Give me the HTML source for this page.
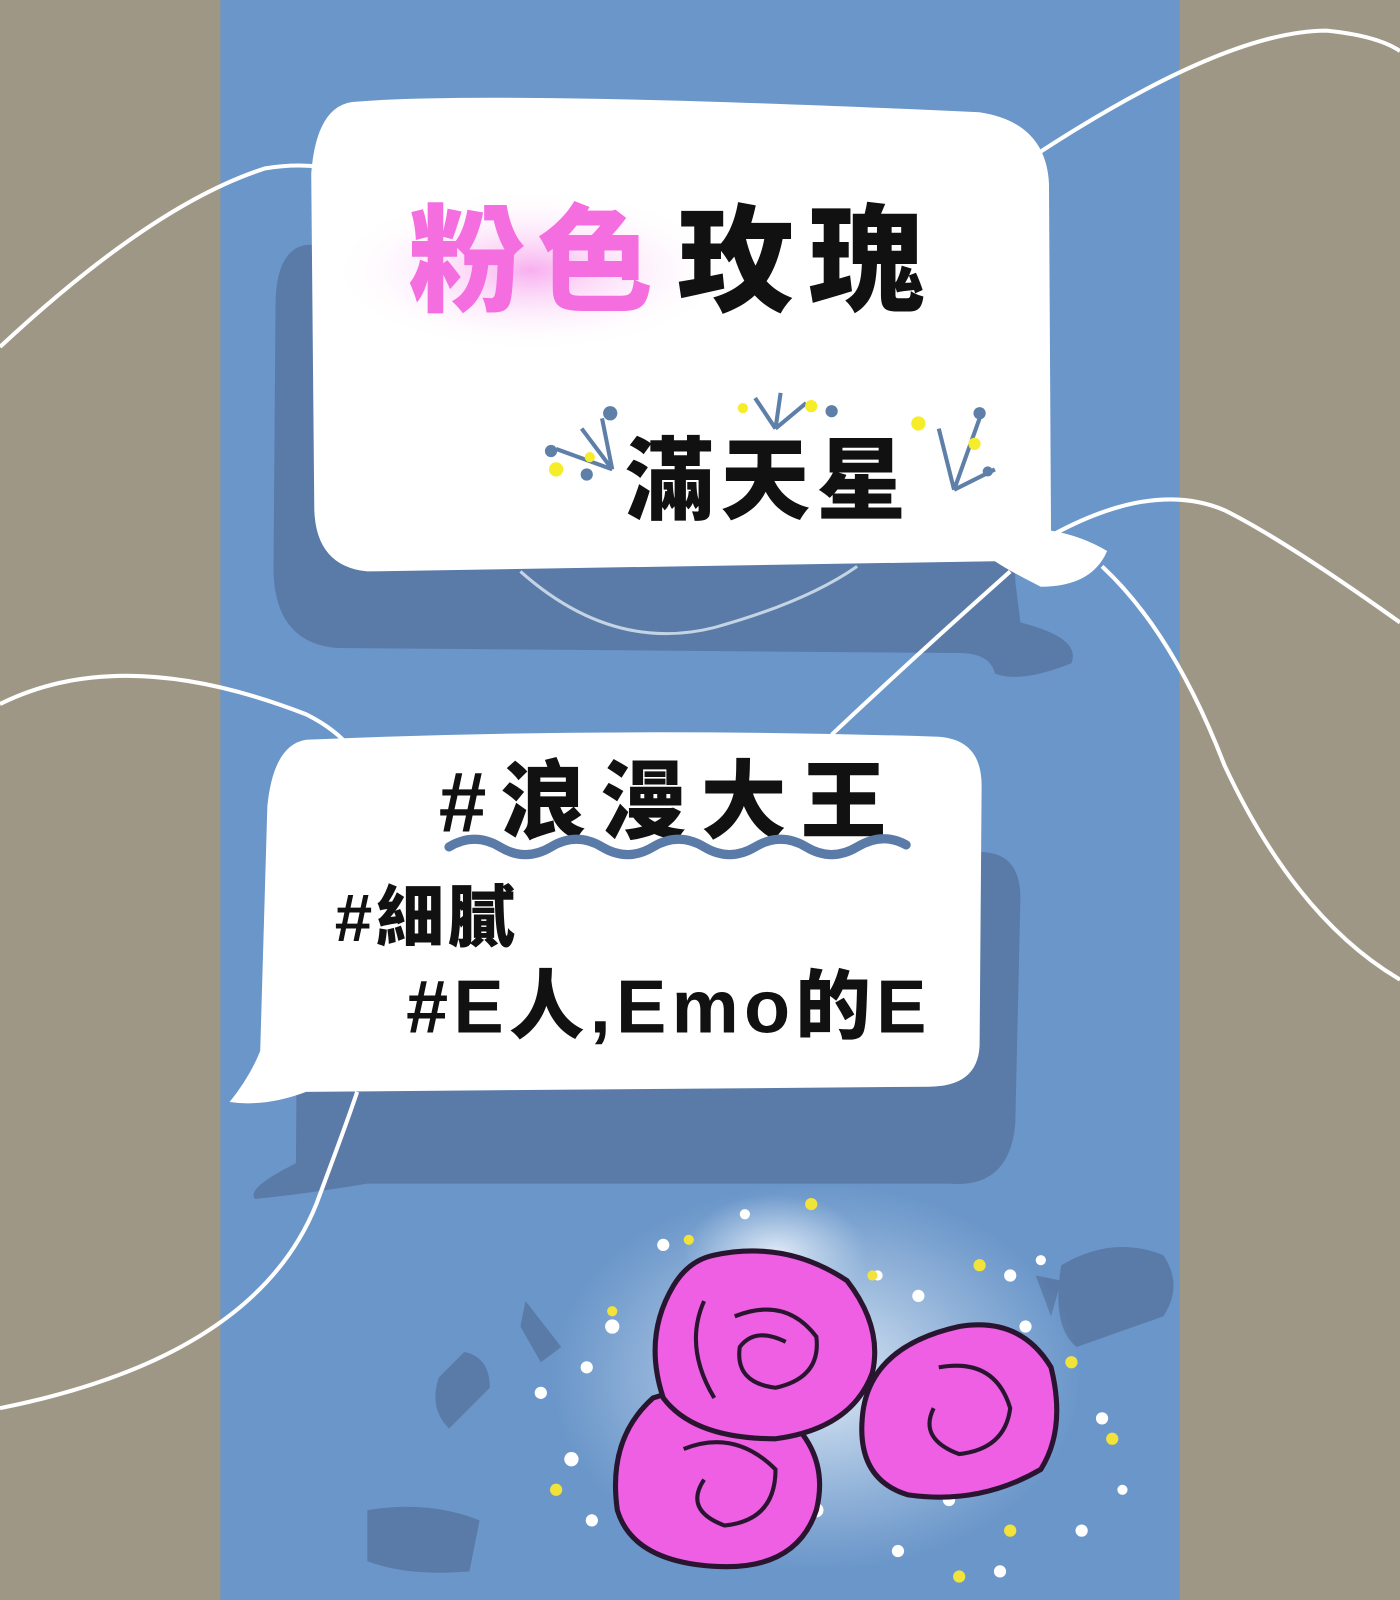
<!DOCTYPE html>
<html><head><meta charset="utf-8">
<style>
html,body{margin:0;padding:0;width:1400px;height:1600px;overflow:hidden;background:#9f9786}
svg{display:block}
text{font-family:"Liberation Sans","Noto Sans CJK TC","WenQuanYi Zen Hei",sans-serif;font-weight:900}
</style></head>
<body>
<svg width="1400" height="1600" viewBox="0 0 1372 1568" preserveAspectRatio="none">
<defs>
<radialGradient id="glow" cx="0.5" cy="0.5" r="0.5">
<stop offset="0" stop-color="#f7a6ee" stop-opacity="0.9"/>
<stop offset="1" stop-color="#ffffff" stop-opacity="0"/>
</radialGradient>
<radialGradient id="mist" cx="0.5" cy="0.5" r="0.5">
<stop offset="0" stop-color="#e8f0fa" stop-opacity="0.95"/>
<stop offset="1" stop-color="#c9dcf0" stop-opacity="0"/>
</radialGradient>
</defs>
<rect x="0" y="0" width="1372" height="1568" fill="#9f9786"/>
<rect x="216" y="0" width="940" height="1568" fill="#6a96c9"/>

<g fill="#5a7ba8">
<path d="M300 240 Q270 245 270 300 L268 560 Q270 630 330 635 L940 640 Q970 640 975 660 Q1000 670 1050 650 Q1060 625 1000 610 L995 570 L990 280 Q985 235 950 235 Z"/>
<path d="M320 840 L960 835 Q1000 835 1000 880 L995 1100 Q990 1165 930 1160 L360 1160 Q300 1170 250 1175 Q240 1165 290 1140 L292 880 Q295 840 320 840 Z"/>
<path d="M1040 1240 Q1090 1210 1140 1230 Q1160 1260 1140 1290 L1055 1320 Q1030 1300 1040 1240 Z"/>
<path d="M515 1275 L550 1320 L530 1335 L510 1300 Z"/>
<path d="M455 1325 Q480 1330 480 1360 L440 1400 Q420 1380 430 1350 Z"/>
<path d="M360 1480 Q420 1470 470 1490 L460 1540 Q400 1545 360 1530 Z"/>
<path d="M1015 1250 L1040 1255 L1030 1290 Z"/>
</g>

<g fill="none" stroke="#ffffff" stroke-width="4">
<path d="M0 340 Q150 200 260 165 Q350 150 420 215"/>
<path d="M1010 155 Q1200 30 1300 30 Q1350 35 1372 50"/>
<path d="M0 690 Q120 630 300 700 Q330 715 345 735"/>
<path d="M1030 525 Q1130 470 1200 500 Q1260 530 1372 610"/>
<path d="M1080 555 Q1150 620 1200 750 Q1270 900 1372 960"/>
<path d="M815 720 Q900 640 990 560"/>
<path d="M510 560 Q600 640 700 615 Q790 590 840 555" stroke="#c5d4e4" stroke-width="3"/>
<path d="M0 1380 Q250 1330 310 1180 Q340 1100 350 1070"/>
</g>

<path d="M345 100 Q480 88 960 110 Q1025 120 1028 180 L1030 520 Q1060 525 1085 540 Q1070 575 1020 575 Q990 560 975 550 L360 560 Q310 555 308 500 L305 170 Q310 105 345 100 Z" fill="#ffffff"/>
<ellipse cx="520" cy="265" rx="195" ry="80" fill="url(#glow)"/>
<text x="400" y="296" font-size="114" fill="#f46ee0" letter-spacing="12">粉色</text>
<text x="664" y="296" font-size="114" fill="#111" letter-spacing="14">玫瑰</text>
<text x="612" y="502" font-size="88" fill="#111" letter-spacing="6">滿天星</text>
<g stroke="#5e7fa8" stroke-width="4" fill="none">
<path d="M600 460 L570 420 M600 460 L590 410 M600 460 L545 440"/>
<path d="M760 420 L740 390 M760 420 L765 385 M760 420 L790 395"/>
<path d="M935 480 L960 410 M935 480 L920 420 M935 480 L975 460"/>
</g>
<g fill="#f5ec2a">
<circle cx="545" cy="460" r="7"/><circle cx="578" cy="448" r="5"/><circle cx="795" cy="398" r="6"/><circle cx="900" cy="415" r="7"/><circle cx="955" cy="435" r="6"/><circle cx="728" cy="400" r="5"/>
</g>
<g fill="#5e7fa8">
<circle cx="598" cy="405" r="7"/><circle cx="540" cy="442" r="6"/><circle cx="815" cy="403" r="6"/><circle cx="960" cy="405" r="6"/><circle cx="968" cy="462" r="5"/><circle cx="575" cy="465" r="6"/>
</g>

<path d="M300 725 Q600 712 920 722 Q962 725 962 770 L960 1025 Q958 1065 910 1065 L300 1070 Q260 1085 225 1080 Q245 1055 255 1030 L262 790 Q268 730 300 725 Z" fill="#ffffff"/>
<text x="430" y="815" font-size="84" fill="#111" letter-spacing="14">#浪漫大王</text>
<path d="M440 830 Q465 815 490 830 Q515 845 540 830 Q565 815 590 830 Q615 845 640 830 Q665 815 690 830 Q715 845 740 830 Q765 815 790 830 Q815 845 840 830 Q865 815 888 828" fill="none" stroke="#5a7ba8" stroke-width="9" stroke-linecap="round"/>
<text x="328" y="922" font-size="66" fill="#111" letter-spacing="4">#細膩</text>
<text x="398" y="1012" font-size="74" fill="#111" textLength="510" lengthAdjust="spacing">#E人,Emo的E</text>

<g>
<ellipse cx="800" cy="1350" rx="260" ry="190" fill="url(#mist)"/>
<ellipse cx="760" cy="1230" rx="90" ry="60" fill="url(#mist)"/>
<g fill="#ffffff">
<circle cx="650" cy="1220" r="6"/><circle cx="670" cy="1260" r="5"/><circle cx="600" cy="1300" r="7"/><circle cx="575" cy="1340" r="6"/><circle cx="530" cy="1365" r="6"/><circle cx="560" cy="1430" r="7"/><circle cx="990" cy="1250" r="6"/><circle cx="1020" cy="1235" r="5"/><circle cx="1005" cy="1300" r="6"/><circle cx="1080" cy="1390" r="6"/><circle cx="1100" cy="1460" r="5"/><circle cx="1060" cy="1500" r="6"/><circle cx="900" cy="1270" r="6"/><circle cx="880" cy="1520" r="6"/><circle cx="800" cy="1480" r="7"/><circle cx="930" cy="1470" r="6"/><circle cx="580" cy="1490" r="6"/><circle cx="730" cy="1190" r="5"/><circle cx="860" cy="1250" r="5"/><circle cx="980" cy="1540" r="6"/>
</g>
<g fill="#f2e33a">
<circle cx="795" cy="1180" r="6"/><circle cx="960" cy="1240" r="6"/><circle cx="855" cy="1250" r="5"/><circle cx="1050" cy="1335" r="6"/><circle cx="1090" cy="1410" r="6"/><circle cx="600" cy="1285" r="5"/><circle cx="545" cy="1460" r="6"/><circle cx="990" cy="1500" r="6"/><circle cx="675" cy="1215" r="5"/><circle cx="940" cy="1545" r="6"/>
</g>
<g fill="#ee5fe3" stroke="#2a1530" stroke-width="5">
<path d="M940 1300 Q1000 1290 1030 1340 Q1045 1400 1020 1440 Q960 1475 890 1465 Q840 1450 845 1390 Q850 1320 940 1300 Z"/>
<path d="M640 1370 Q700 1350 760 1380 Q815 1420 800 1480 Q780 1540 700 1535 Q620 1530 605 1480 Q595 1410 640 1370 Z"/>
<path d="M700 1230 Q770 1215 830 1255 Q865 1300 855 1345 Q835 1400 760 1410 Q680 1410 650 1370 Q630 1310 660 1260 Q675 1235 700 1230 Z"/>
</g>
<g fill="none" stroke="#2a1530" stroke-width="4">
<path d="M720 1290 Q770 1270 800 1310 Q805 1350 760 1360 Q720 1355 725 1320 Q740 1300 770 1315"/>
<path d="M690 1275 Q670 1320 700 1370"/>
<path d="M920 1340 Q975 1330 990 1380 Q985 1420 940 1425 Q900 1410 915 1380"/>
<path d="M670 1420 Q720 1400 760 1440 Q760 1490 710 1495 Q670 1480 690 1450"/>
</g>
</g>
</svg>
</body></html>
